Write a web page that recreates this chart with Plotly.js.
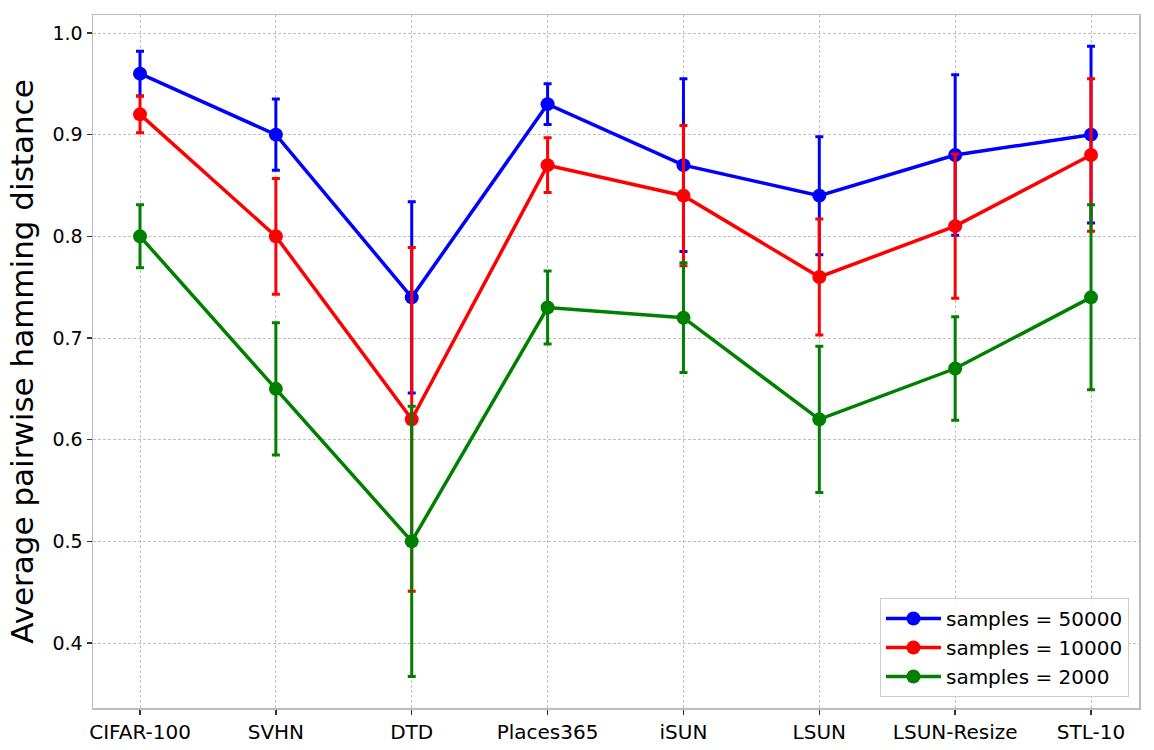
<!DOCTYPE html>
<html>
<head>
<meta charset="utf-8">
<script src="https://cdn.plot.ly/plotly-3.0.1.min.js"></script>
<style>html,body{margin:0;padding:0;background:#fff}#chart{width:1154px;height:750px}</style>
</head>
<body>
<div id="chart"></div>
<script>
const categories = ["CIFAR-100","SVHN","DTD","Places365","iSUN","LSUN","LSUN-Resize","STL-10"];
const mean50000 = [0.96, 0.90, 0.74, 0.93, 0.87, 0.84, 0.88, 0.90];
const err50000  = [0.022, 0.035, 0.094, 0.020, 0.085, 0.058, 0.079, 0.087];
const mean10000 = [0.92, 0.80, 0.62, 0.87, 0.84, 0.76, 0.81, 0.88];
const err10000  = [0.018, 0.057, 0.169, 0.027, 0.069, 0.057, 0.071, 0.075];
const mean2000  = [0.80, 0.65, 0.50, 0.73, 0.72, 0.62, 0.67, 0.74];
const err2000   = [0.031, 0.065, 0.133, 0.036, 0.054, 0.072, 0.051, 0.091];
const seriesNames = ["samples = 50000","samples = 10000","samples = 2000"];
const yTicks = [0.4,0.5,0.6,0.7,0.8,0.9,1.0];

const colors = ["#0000ff","#ff0000","#008000"];
const means = [mean50000, mean10000, mean2000];
const errs = [err50000, err10000, err2000];
const xIdx = categories.map((c,i)=>i);

const traces = means.map((m,k)=>({
  type:'scatter', mode:'lines+markers', name: seriesNames[k],
  x: xIdx, y: m,
  line:{color:colors[k], width:3.5},
  marker:{color:colors[k], size:14},
  error_y:{type:'data', array:errs[k], visible:true, color:colors[k], thickness:3, width:4}
}));

const layout = {
  width:1154, height:750,
  margin:{l:93, r:15, t:15, b:42},
  paper_bgcolor:'#fff', plot_bgcolor:'#fff',
  font:{family:'DejaVu Sans, sans-serif', size:20, color:'#000'},
  showlegend:true,
  legend:{x:0.9904, y:0.0159, xanchor:'right', yanchor:'bottom',
    bgcolor:'rgba(255,255,255,0.9)', bordercolor:'#cccccc', borderwidth:1,
    font:{size:20}, tracegroupgap:0, itemwidth:55},
  xaxis:{
    range:[-0.346, 7.353], tickmode:'array', tickvals:xIdx, ticktext:categories,
    showgrid:true, gridcolor:'#b0b0b0', gridwidth:0.8, griddash:'3px,2px',
    showline:true, mirror:true, linecolor:'#bcbcbc', linewidth:1.5,
    ticks:'outside', ticklen:5, tickcolor:'#333', tickwidth:1.5,
    zeroline:false, tickfont:{size:20}
  },
  yaxis:{
    range:[0.3361, 1.0177], tickmode:'array', tickvals:yTicks,
    ticktext:yTicks.map(v=>v.toFixed(1)),
    showgrid:true, gridcolor:'#b0b0b0', gridwidth:0.8, griddash:'3px,2px',
    showline:true, mirror:true, linecolor:'#bcbcbc', linewidth:1.5,
    ticks:'outside', ticklen:5, tickcolor:'#333', tickwidth:1.5,
    zeroline:false, tickfont:{size:19},
    title:{text:'Average pairwise hamming distance', font:{size:31}, standoff:9}
  }
};
Plotly.newPlot('chart', traces, layout, {displayModeBar:false, staticPlot:true});
</script>
</body>
</html>
